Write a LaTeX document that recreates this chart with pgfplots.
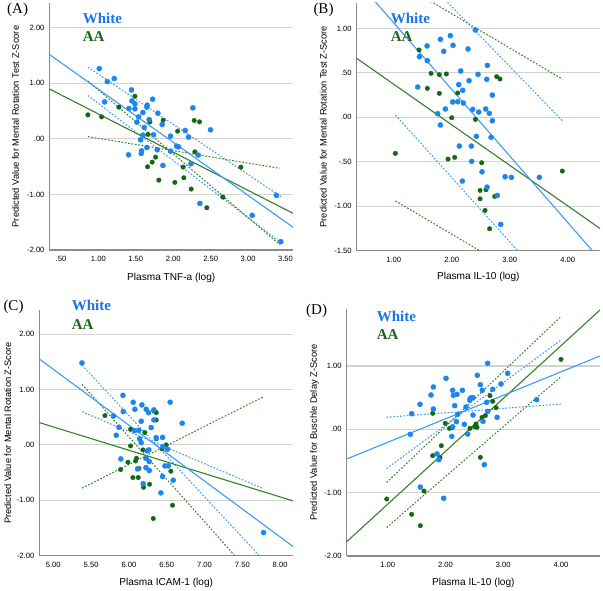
\documentclass[border=0pt]{standalone}
\usepackage{fontspec}
\setmainfont{Liberation Serif}
\newfontfamily\arial{Liberation Sans}
\usepackage{pgfplots}
\pgfplotsset{compat=1.18}
\definecolor{bdot}{RGB}{28,134,238}
\definecolor{gdot}{RGB}{20,104,20}
\definecolor{bline}{RGB}{60,155,245}
\definecolor{gline}{RGB}{50,130,40}
\definecolor{btext}{RGB}{25,115,240}
\definecolor{gtext}{RGB}{25,100,25}
\definecolor{axgray}{RGB}{140,140,140}
\definecolor{gridgray}{RGB}{210,210,210}
\pgfplotsset{
  spss/.style={
    scale only axis, anchor=south west,
    axis x line*=bottom, axis y line*=left,
    axis line style={axgray, line width=1.2pt},
    ymajorgrids, grid style={gridgray, line width=1.1pt},
    major tick length=0pt,
    tick label style={font=\arial\fontsize{7.6}{8}\selectfont, black},
    yticklabel style={xshift=-1.5pt},
    xticklabel style={yshift=-2.5pt},
    ylabel style={font=\arial\fontsize{9.3}{10}\selectfont, anchor=base},
    xlabel style={font=\arial\fontsize{10.1}{11}\selectfont, anchor=base},
    clip=true,
  },
  bpts/.style={only marks, mark=*, mark size=2.6pt, color=bdot, mark options={solid, draw=bdot, fill=bdot, line width=0.3pt}},
  gpts/.style={only marks, mark=*, mark size=2.3pt, color=gdot, mark options={solid, draw=gdot, fill=gdot, line width=0.3pt}},
  bfit/.style={no marks, bline, line width=1.1pt},
  gfit/.style={no marks, gline, line width=1.1pt},
  bci/.style={no marks, bline, line width=1pt, dash pattern=on 1.7pt off 1.7pt},
  gci/.style={no marks, gline, line width=1pt, dash pattern=on 1.7pt off 1.7pt},
}
\begin{document}
\begin{tikzpicture}
\path[use as bounding box] (0,0) rectangle (603pt,590pt);

% ---------------- Panel A ----------------
\begin{axis}[spss, at={(49.5pt,340pt)}, width=243.5pt, height=247pt,
  xmin=0.347, xmax=3.60, ymin=-2, ymax=2.443,
  xtick={0.5,1,1.5,2,2.5,3,3.5}, xticklabels={.50,1.00,1.50,2.00,2.50,3.00,3.50},
  ytick={-2,-1,0,1,2}, yticklabels={-2.00,-1.00,.00,1.00,2.00},
  xlabel={Plasma TNF-a (log)}, ylabel={Predicted Value for Mental Rotation Test Z-Score},
  xlabel style={at={(axis description cs:0.5,-0.1215)}},
  ylabel style={at={(axis description cs:-0.1253,0.5)}}]
\addplot[bci] coordinates {(0.86,1.29) (3.44,-1.04)};
\addplot[bci] coordinates {(0.86,0.78) (3.44,-1.87)};
\addplot[gci] coordinates {(0.86,0.04) (3.42,-0.53)};
\addplot[gci] coordinates {(0.86,1.04) (3.42,-1.90)};
\addplot[gfit] coordinates {(0.344,0.898) (3.602,-1.341)};
\addplot[bfit] coordinates {(0.347,1.516) (3.61,-1.60)};
\addplot[gpts] coordinates {(0.860,0.431)(1.043,0.395)(1.274,0.569)(1.488,0.766)(1.866,0.335)(1.688,0.305)(1.662,0.078)(2.058,0.138)(2.280,0.329)(2.351,0.305)(2.289,-0.234)(1.657,-0.503)(1.719,-0.419)(1.764,-0.329)(1.808,-0.743)(2.022,-0.784)(2.133,-0.509)(2.142,-0.701)(2.240,-0.904)(2.449,-1.240)(2.663,-1.048)(2.903,-0.509)};
\addplot[bpts] coordinates {(1.012,1.263)(1.119,1.030)(1.212,1.084)(1.083,0.665)(1.443,0.880)(1.448,0.683)(1.488,0.629)(1.488,0.539)(1.408,0.545)(1.724,0.713)(1.653,0.605)(1.648,0.569)(1.595,0.473)(1.537,0.395)(1.515,0.299)(1.679,0.347)(1.613,0.204)(1.795,0.461)(1.853,0.257)(1.737,0.072)(1.595,0.066)(1.564,-0.018)(1.577,-0.216)(1.573,-0.263)(1.403,-0.287)(1.648,-0.156)(1.786,-0.198)(1.862,-0.479)(1.964,0.048)(1.964,-0.222)(2.044,-0.132)(2.071,-0.144)(2.160,0.150)(2.205,0.030)(2.262,0.557)(2.498,0.162)(2.334,-0.293)(2.236,-0.449)(2.356,-1.162)(3.055,-1.377)(3.379,-1.018)(3.437,-1.850)};
\end{axis}

% ---------------- Panel B ----------------
\begin{axis}[spss, at={(356.7pt,339.3pt)}, width=243.3pt, height=248pt,
  xmin=0.362, xmax=4.557, ymin=-1.5, ymax=1.29,
  xtick={1,2,3,4}, xticklabels={1.00,2.00,3.00,4.00},
  ytick={-1.5,-1,-0.5,0,0.5,1}, yticklabels={-1.50,-1.00,-.50,.00,.50,1.00},
  xlabel={Plasma IL-10 (log)}, ylabel={Predicted Value for Mental Rotation Test Z-Score},
  xlabel style={at={(axis description cs:0.5,-0.118)}},
  ylabel style={at={(axis description cs:-0.1233,0.5)}}]
\addplot[gci] coordinates {(1.03,1.54) (3.91,0.43)};
\addplot[gci] coordinates {(1.03,-0.94) (3.91,-2.05)};
\addplot[bci] coordinates {(1.03,1.90) (3.91,-0.04)};
\addplot[bci] coordinates {(1.03,0.026) (3.91,-2.06)};
\addplot[gfit] coordinates {(0.362,0.664) (4.557,-1.250)};
\addplot[bfit] coordinates {(0.362,1.541) (4.557,-1.599)};
\addplot[gpts] coordinates {(1.437,0.758)(1.644,0.495)(1.787,0.480)(1.908,0.488)(1.580,0.326)(1.787,0.270)(2.103,0.274)(2.776,0.458)(2.833,0.432)(2.000,-0.004)(2.408,-0.023)(1.029,-0.405)(1.937,-0.469)(2.052,-0.450)(2.517,-0.510)(3.908,-0.604)(2.489,-0.822)(2.592,-0.814)(2.741,-0.889)(2.489,-0.916)(2.575,-1.047)(2.655,-1.253)};
\addplot[bpts] coordinates {(2.408,0.983)(1.805,0.878)(1.977,0.919)(1.575,0.803)(2.023,0.811)(1.862,0.743)(2.282,0.769)(1.443,0.683)(1.580,0.638)(2.615,0.585)(2.155,0.522)(2.454,0.484)(2.603,0.428)(2.299,0.413)(1.414,0.341)(2.121,0.368)(2.190,0.304)(2.701,0.251)(2.017,0.173)(2.103,0.176)(2.201,0.161)(1.891,0.094)(2.362,0.090)(2.466,0.060)(2.586,0.094)(2.649,0.045)(1.759,0.041)(2.701,-0.038)(1.805,-0.086)(2.425,-0.214)(2.678,-0.225)(2.132,-0.323)(2.339,-0.323)(2.345,-0.495)(2.523,-0.612)(2.920,-0.668)(3.029,-0.675)(3.511,-0.675)(2.184,-0.717)(2.609,-0.784)(2.787,-0.878)(2.845,-1.205)};
\end{axis}

% ---------------- Panel C ----------------
\begin{axis}[spss, at={(39.3pt,34.3pt)}, width=253.7pt, height=245.7pt,
  xmin=4.815, xmax=8.17, ymin=-2, ymax=2.436,
  xtick={5,5.5,6,6.5,7,7.5,8}, xticklabels={5.00,5.50,6.00,6.50,7.00,7.50,8.00},
  ytick={-2,-1,0,1,2}, yticklabels={-2.00,-1.00,.00,1.00,2.00},
  xlabel={Plasma ICAM-1 (log)}, ylabel={Predicted Value for Mental Rotation Z-Score},
  xlabel style={at={(axis description cs:0.5,-0.123)}},
  ylabel style={at={(axis description cs:-0.111,0.5)}}]
\addplot[bci] coordinates {(5.38,1.44) (7.78,-2.08)};
\addplot[bci] coordinates {(5.38,0.60) (7.78,-0.79)};
\addplot[gci] coordinates {(5.38,1.095) (7.78,-2.58)};
\addplot[gci] coordinates {(5.38,-0.78) (7.78,0.87)};
\addplot[gfit] coordinates {(4.815,0.403) (8.172,-1.011)};
\addplot[bfit] coordinates {(4.815,1.552) (8.172,-1.835)};
\addplot[gpts] coordinates {(5.683,0.529)(6.330,0.614)(6.361,0.583)(6.361,0.451)(6.022,0.283)(6.211,0.223)(6.361,0.111)(6.022,-0.018)(6.185,-0.090)(6.493,0.0)(6.44,-0.07)(6.101,-0.241)(6.088,-0.289)(5.987,-0.313)(5.890,-0.445)(6.132,-0.427)(6.555,-0.475)(6.053,-0.589)(6.123,-0.589)(6.273,-0.710)(6.194,-0.764)(6.577,-1.089)(6.322,-1.329)};
\addplot[bpts] coordinates {(5.379,1.480)(5.921,0.896)(6.057,0.770)(6.172,0.722)(6.546,0.770)(6.079,0.644)(5.925,0.602)(6.229,0.644)(6.260,0.583)(6.330,0.632)(5.797,0.523)(6.330,0.451)(6.705,0.391)(6.163,0.427)(5.868,0.319)(6.295,0.313)(6.075,0.259)(6.132,0.265)(5.833,0.174)(6.445,0.135)(6.141,0.110)(6.163,0.042)(6.361,0.132)(6.45,-0.03)(6.242,-0.108)(6.264,-0.090)(6.511,-0.078)(5.894,-0.253)(6.225,-0.241)(6.269,-0.301)(6.115,-0.433)(6.225,-0.409)(6.269,-0.463)(6.476,-0.379)(6.520,-0.379)(6.445,-0.571)(6.586,-0.638)(6.189,-0.698)(6.423,-0.866)(7.780,-1.582)};
\end{axis}

% ---------------- Panel D ----------------
\begin{axis}[spss, at={(346.7pt,34pt)}, width=253.3pt, height=247pt,
  xmin=0.29, xmax=4.676, ymin=-2, ymax=1.90,
  xtick={1,2,3,4}, xticklabels={1.00,2.00,3.00,4.00},
  ytick={-2,-1,0,1}, yticklabels={-2.00,-1.00,.00,1.00},
  xlabel={Plasma IL-10 (log)}, ylabel={Predicted Value for Buschle Delay Z-Score},
  xlabel style={at={(axis description cs:0.5,-0.121)}},
  ylabel style={at={(axis description cs:-0.118,0.5)}}]
\addplot[bci] coordinates {(0.98,0.19) (4.0,0.40)};
\addplot[bci] coordinates {(0.98,-0.62) (4.0,1.41)};
\addplot[gci] coordinates {(0.98,-0.84) (4.0,1.78)};
\addplot[gci] coordinates {(0.98,-1.55) (4.0,0.83)};
\addplot[gfit] coordinates {(0.29,-1.774) (4.676,1.884)};
\addplot[bfit] coordinates {(0.29,-0.468) (4.676,1.158)};
\addplot[gpts] coordinates {(4.001,1.105)(2.771,0.532)(2.818,0.442)(2.875,0.342)(1.779,0.253)(2.633,0.189)(2.691,0.216)(2.529,0.084)(2.506,0.042)(2.546,0.032)(1.998,0.095)(2.068,0.016)(2.114,0.026)(2.425,0.016)(1.929,-0.258)(1.779,-0.416)(1.906,-0.447)(2.604,-0.442)(1.629,-0.974)(0.983,-1.100)(1.415,-1.342)(1.565,-1.521)};
\addplot[bpts] coordinates {(2.731,1.042)(2.010,0.805)(2.552,0.853)(3.077,0.884)(1.791,0.668)(2.604,0.705)(2.962,0.716)(2.125,0.616)(2.293,0.616)(2.639,0.616)(2.818,0.632)(1.750,0.542)(2.137,0.537)(2.200,0.553)(2.431,0.489)(2.454,0.500)(2.477,0.500)(2.419,0.463)(1.560,0.395)(2.160,0.374)(2.356,0.353)(1.791,0.321)(2.714,0.426)(3.579,0.468)(1.415,0.247)(2.212,0.237)(2.731,0.284)(2.477,0.226)(2.893,0.189)(2.650,0.126)(2.327,0.079)(2.189,0.121)(2.125,0.040)(1.392,-0.079)(2.108,-0.111)(2.385,-0.074)(1.854,-0.389)(1.883,-0.479)(2.673,-0.558)(1.565,-0.911)(1.969,-1.089)};
\end{axis}

% ---------------- panel letters and group labels ----------------
\node[anchor=base west, inner sep=0pt, font=\fontsize{15}{16}\selectfont] at (7pt,576pt) {(A)};
\node[anchor=base west, inner sep=0pt, font=\fontsize{15}{16}\selectfont] at (313.3pt,576pt) {(B)};
\node[anchor=base west, inner sep=0pt, font=\fontsize{15}{16}\selectfont] at (3.3pt,279.3pt) {(C)};
\node[anchor=base west, inner sep=0pt, font=\fontsize{15}{16}\selectfont] at (306pt,275pt) {(D)};
\node[anchor=base west, inner sep=0pt, text=btext, font=\bfseries\fontsize{15}{16}\selectfont] at (82.7pt,566pt) {White};
\node[anchor=base west, inner sep=0pt, text=gtext, font=\bfseries\fontsize{15}{16}\selectfont] at (82.7pt,548pt) {AA};
\node[anchor=base west, inner sep=0pt, text=btext, font=\bfseries\fontsize{15}{16}\selectfont] at (390.7pt,566.7pt) {White};
\node[anchor=base west, inner sep=0pt, text=gtext, font=\bfseries\fontsize{15}{16}\selectfont] at (390.7pt,548.7pt) {AA};
\node[anchor=base west, inner sep=0pt, text=btext, font=\bfseries\fontsize{15}{16}\selectfont] at (71.7pt,279.3pt) {White};
\node[anchor=base west, inner sep=0pt, text=gtext, font=\bfseries\fontsize{15}{16}\selectfont] at (71.7pt,260.7pt) {AA};
\node[anchor=base west, inner sep=0pt, text=btext, font=\bfseries\fontsize{15}{16}\selectfont] at (376.7pt,268pt) {White};
\node[anchor=base west, inner sep=0pt, text=gtext, font=\bfseries\fontsize{15}{16}\selectfont] at (376.7pt,250pt) {AA};
\end{tikzpicture}
\end{document}
